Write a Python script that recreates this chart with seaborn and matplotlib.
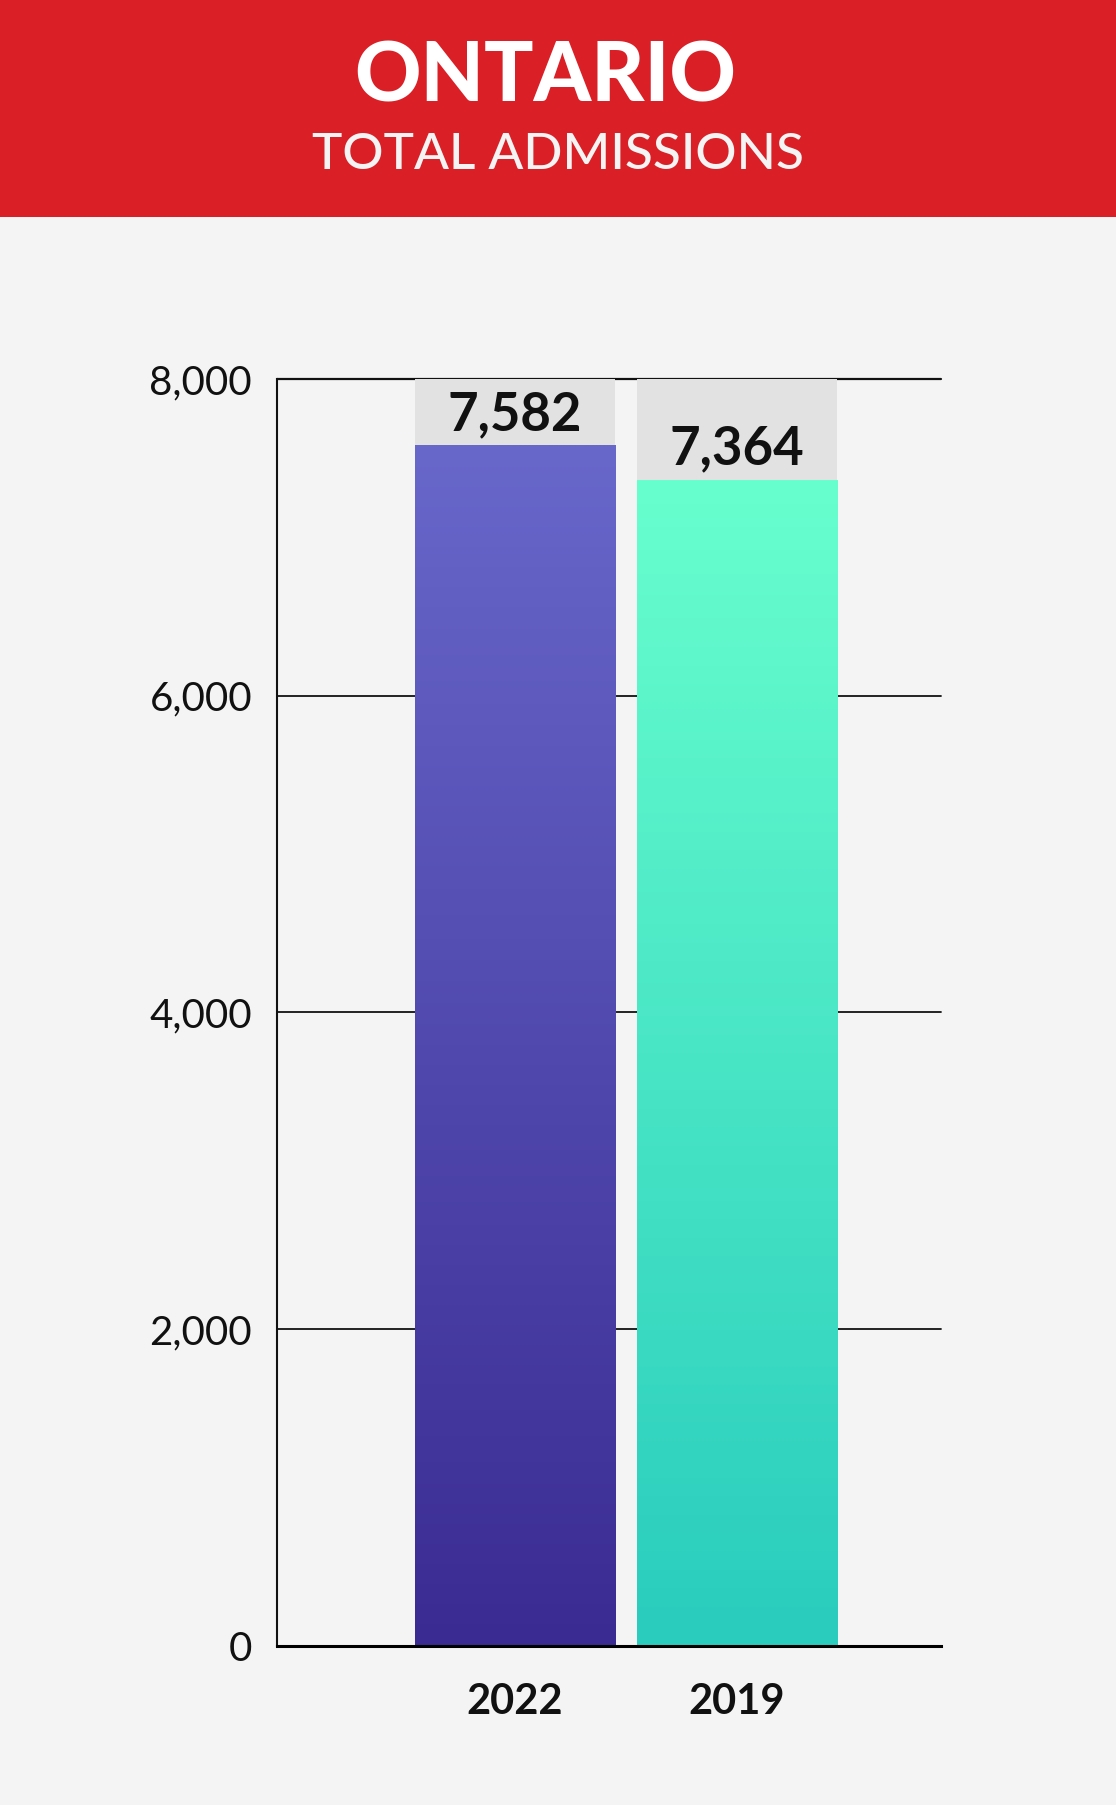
import numpy as np
import matplotlib
matplotlib.use("Agg")
import matplotlib.pyplot as plt
from matplotlib.patches import Rectangle
from matplotlib.colors import to_rgb
import seaborn as sns

# ---- data ----
years = ["2022", "2019"]
totals = [7582, 7364]
value_labels = ["7,582", "7,364"]
y_ticks = [0, 2000, 4000, 6000, 8000]
y_tick_labels = ["0", "2,000", "4,000", "6,000", "8,000"]
y_max = 8000
title = "ONTARIO"
subtitle = "TOTAL ADMISSIONS"

# ---- style ----
BG = "#F4F4F4"
RED = "#DA1F26"
GRAY = "#E2E2E2"
grad_top = ["#6867CA", "#68FFCE"]
grad_bottom = ["#3A2B92", "#29CCBD"]

sns.set_theme(style="white")
plt.rcParams["font.family"] = ["Lato", "DejaVu Sans"]

W, H = 1116, 1805
fig = plt.figure(figsize=(W / 100, H / 100), dpi=100, facecolor=BG)

# header band
fig.patches.append(Rectangle((0, 1 - 217 / H), 1, 217 / H, transform=fig.transFigure,
                             facecolor=RED, edgecolor="none", zorder=0))
fig.text(545 / W, 1 - 78 / H, title, ha="center", va="center", color="white",
         fontsize=59, fontweight="black")
fig.text(558 / W, 1 - 155 / H, subtitle, ha="center", va="center", color="#F4F4F4",
         fontsize=37, fontweight="medium")

ax = fig.add_axes([277 / W, (H - 1646) / H, (941 - 277) / W, (1646 - 379) / H])
ax.set_facecolor(BG)

bw = 0.903
# gray backing boxes up to the axis max
sns.barplot(x=years, y=[y_max] * len(years), order=years, color=GRAY, saturation=1,
            width=bw, linewidth=0, ax=ax, zorder=2)
n_bg = len(ax.patches)
sns.barplot(x=years, y=totals, order=years, hue=years, palette=grad_top, saturation=1,
            width=bw, linewidth=0, legend=False, ax=ax, zorder=3)
bars = ax.patches[n_bg:]

# gradient fill clipped to each bar
for i, p in enumerate(bars):
    x0, y0 = p.get_x(), p.get_y()
    w, h = p.get_width(), p.get_height()
    t = np.linspace(0, 1, 256)[:, None]
    c1 = np.array(to_rgb(grad_top[i]))
    c2 = np.array(to_rgb(grad_bottom[i]))
    img = (c1[None, :] * (1 - t) + c2[None, :] * t)[:, None, :]
    im = ax.imshow(img, extent=(x0, x0 + w, y0, y0 + h), aspect="auto",
                   origin="upper", zorder=4, interpolation="bilinear")
    im.set_clip_path(p)
    ax.annotate(value_labels[i], (x0 + w / 2, y0 + h), xytext=(0, 11),
                textcoords="offset points", ha="center", va="baseline",
                fontsize=38, fontweight="bold", color="#111111", zorder=6)

ax.set_xlim(-1.0745, 1.923)
ax.set_ylim(0, y_max)
ax.set_yticks(y_ticks)
ax.set_yticklabels(y_tick_labels)
ax.tick_params(axis="y", length=0, pad=18, labelsize=29, labelcolor="#111111")
ax.tick_params(axis="x", length=0, pad=27, labelsize=30, labelcolor="#111111")
for lab in ax.get_xticklabels():
    lab.set_fontweight("bold")
ax.set_xlabel("")
ax.set_ylabel("")

# horizontal rules
for v in y_ticks[1:]:
    ax.axhline(v, color="#111111", linewidth=1.3 if v < y_max else 1.6, zorder=1, clip_on=False)

for s in ["top", "right"]:
    ax.spines[s].set_visible(False)
ax.spines["left"].set_color("#111111")
ax.spines["left"].set_linewidth(1.5)
ax.spines["bottom"].set_color("#000000")
ax.spines["bottom"].set_linewidth(2.2)
ax.spines["bottom"].set_zorder(7)

fig.savefig("out.png", dpi=100, facecolor=BG)
